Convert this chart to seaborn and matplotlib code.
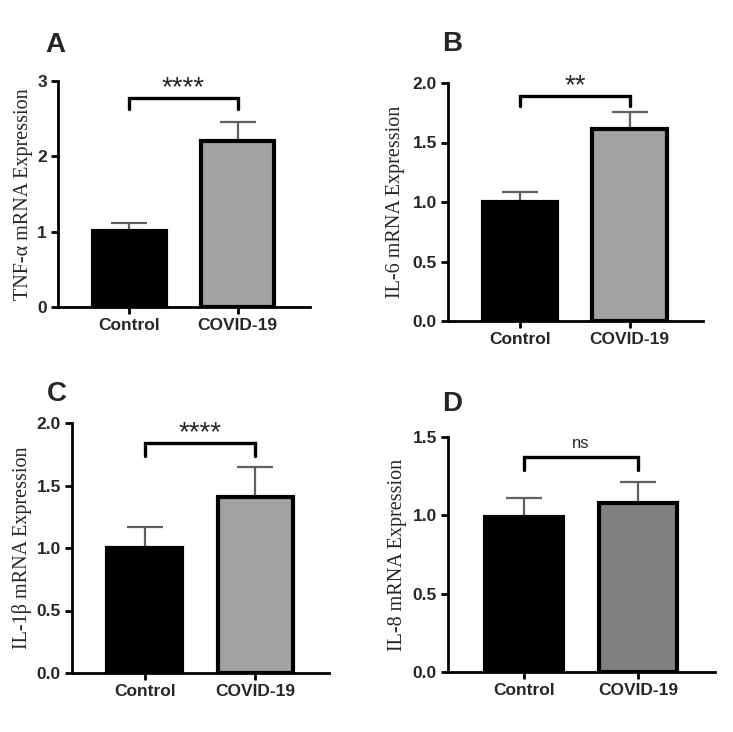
import numpy as np
import pandas as pd
import matplotlib
matplotlib.use('Agg')
import matplotlib.pyplot as plt
import seaborn as sns

# data
groups = ['Control', 'COVID-19']

tnf_mean = [1.01, 2.20]
tnf_err = [0.10, 0.26]

il6_mean = [1.00, 1.61]
il6_err = [0.08, 0.15]

il1b_mean = [1.00, 1.41]
il1b_err = [0.17, 0.24]

il8_mean = [0.99, 1.08]
il8_err = [0.12, 0.13]

sig_labels = ['****', '**', '****', 'ns']
ylabels = ['TNF-α mRNA Expression', 'IL-6 mRNA Expression',
           'IL-1β mRNA Expression', 'IL-8 mRNA Expression']
letters = ['A', 'B', 'C', 'D']

sns.set_style('ticks')
plt.rcParams['font.family'] = ['Liberation Sans', 'DejaVu Sans']

W, H = 733, 732
fig = plt.figure(figsize=(W / 100, H / 100), dpi=100)


def px_axes(x0, y0, x1, y1):
    return fig.add_axes([x0 / W, 1 - y1 / H, (x1 - x0) / W, (y1 - y0) / H])


panels = [
    # box in pixels, means, errs, ylim top, yticks, fmt, bracket y, leg y, covid colour, label offset px, letter pos
    dict(box=(58, 81, 310, 307), mean=tnf_mean, err=tnf_err, top=3, ticks=[0, 1, 2, 3], fmt='{:.0f}',
         br=2.78, leg=2.63, col='#a2a1a6', lab=25, let=(45, 32)),
    dict(box=(448, 83, 703, 321), mean=il6_mean, err=il6_err, top=2.0, ticks=[0, 0.5, 1.0, 1.5, 2.0], fmt='{:.1f}',
         br=1.89, leg=1.81, col='#a2a1a6', lab=43, let=(442, 31)),
    dict(box=(72, 423, 329, 673), mean=il1b_mean, err=il1b_err, top=2.0, ticks=[0, 0.5, 1.0, 1.5, 2.0], fmt='{:.1f}',
         br=1.84, leg=1.74, col='#a2a1a6', lab=40, let=(47, 381)),
    dict(box=(448, 437, 715, 672), mean=il8_mean, err=il8_err, top=1.5, ticks=[0, 0.5, 1.0, 1.5], fmt='{:.1f}',
         br=1.37, leg=1.29, col='#808080', lab=41, let=(442, 391)),
]

for i, p in enumerate(panels):
    ax = px_axes(*p['box'])
    df = pd.DataFrame({'group': groups, 'value': p['mean']})
    sns.barplot(data=df, x='group', y='value', hue='group', palette=['black', p['col']],
                width=0.68, edgecolor='black', linewidth=3, legend=False, ax=ax, zorder=2)
    # upper error bars only
    ax.errorbar(range(len(groups)), p['mean'], yerr=[np.zeros(len(groups)), p['err']],
                fmt='none', ecolor='#606060', elinewidth=1.6, capsize=13, capthick=1.6, zorder=1)

    ax.set_xlim(-0.66, 1.67)
    ax.set_ylim(0, p['top'])
    ax.set_yticks(p['ticks'])
    ax.set_yticklabels([p['fmt'].format(t) for t in p['ticks']])
    ax.set_xlabel('')
    ax.set_ylabel(ylabels[i], family=['Liberation Serif', 'DejaVu Serif'], fontsize=14.5)
    ax.yaxis.set_label_coords(-p['lab'] / (p['box'][2] - p['box'][0]), 0.5)

    sns.despine(ax=ax)
    for s in ['left', 'bottom']:
        ax.spines[s].set_linewidth(2)
        ax.spines[s].set_color('black')
    ax.tick_params(axis='both', direction='out', length=5, width=2, color='black',
                   labelsize=12.5, pad=3)
    for t in ax.get_xticklabels() + ax.get_yticklabels():
        t.set_fontweight('bold')

    # significance bracket
    ax.plot([0, 0, 1, 1], [p['leg'], p['br'], p['br'], p['leg']], color='black', lw=2.4,
            solid_joinstyle='miter', clip_on=False)
    if sig_labels[i] == 'ns':
        ax.annotate('ns', xy=(0.5, p['br']), xytext=(0, 7), textcoords='offset points',
                    ha='center', va='baseline', fontsize=12)
    else:
        ax.annotate(sig_labels[i], xy=(0.5, p['br']), xytext=(0, 2), textcoords='offset points',
                    ha='center', va='baseline', fontsize=20)

    fig.text(p['let'][0] / W, 1 - p['let'][1] / H, letters[i], fontsize=20,
             fontweight='bold', ha='left', va='top')

fig.savefig('out.png', dpi=100)
